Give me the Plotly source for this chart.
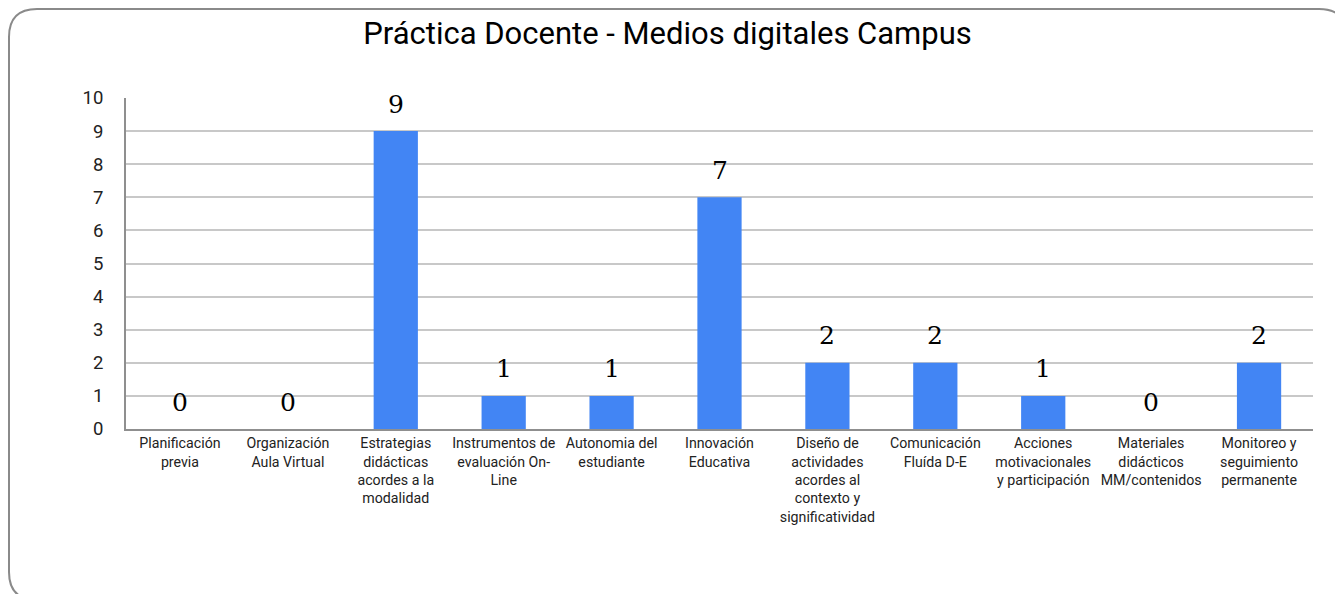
import plotly.graph_objects as go

categories = [
    "Planificación previa",
    "Organización Aula Virtual",
    "Estrategias didácticas acordes a la modalidad",
    "Instrumentos de evaluación On-Line",
    "Autonomia del estudiante",
    "Innovación Educativa",
    "Diseño de actividades acordes al contexto y significatividad",
    "Comunicación Fluída D-E",
    "Acciones motivacionales y participación",
    "Materiales didácticos MM/contenidos",
    "Monitoreo y seguimiento permanente",
]
tick_labels = [
    "Planificación<br>previa",
    "Organización<br>Aula Virtual",
    "Estrategias<br>didácticas<br>acordes a la<br>modalidad",
    "Instrumentos de<br>evaluación On-<br>Line",
    "Autonomia del<br>estudiante",
    "Innovación<br>Educativa",
    "Diseño de<br>actividades<br>acordes al<br>contexto y<br>significatividad",
    "Comunicación<br>Fluída D-E",
    "Acciones<br>motivacionales<br>y participación",
    "Materiales<br>didácticos<br>MM/contenidos",
    "Monitoreo y<br>seguimiento<br>permanente",
]
values = [0, 0, 9, 1, 1, 7, 2, 2, 1, 0, 2]
title_text = "Práctica Docente - Medios digitales Campus"

W, H = 1335, 594
ML, MR, MT, MB = 126, 22, 98, 165
PW, PH = W - ML - MR, H - MT - MB

fig = go.Figure()
fig.add_trace(go.Bar(
    x=categories, y=values,
    marker=dict(color="#4285F4", line=dict(width=0)),
    hoverinfo="x+y",
))

# value labels above bars
for c, v in zip(categories, values):
    fig.add_annotation(
        x=c, y=v, text=str(v), showarrow=False,
        yanchor="middle", yshift=27,
        font=dict(family="DejaVu Serif", size=25, color="#000000"),
    )

# rounded frame around the chart (pixel -> paper coords)
def px(x):
    return (x - ML) / PW

def py(y):
    return (H - MB - y) / PH

L, T, R, B, r = 9, 9, 1347, 600, 28
path = (
    f"M {px(L)},{py(T + r)} "
    f"Q {px(L)},{py(T)} {px(L + r)},{py(T)} "
    f"L {px(R - r)},{py(T)} "
    f"Q {px(R)},{py(T)} {px(R)},{py(T + r)} "
    f"L {px(R)},{py(B - r)} "
    f"Q {px(R)},{py(B)} {px(R - r)},{py(B)} "
    f"L {px(L + r)},{py(B)} "
    f"Q {px(L)},{py(B)} {px(L)},{py(B - r)} Z"
)
fig.add_shape(type="path", path=path, xref="paper", yref="paper",
              line=dict(color="#8a8a8a", width=2), layer="below")

fig.update_layout(
    width=W, height=H,
    margin=dict(l=ML, r=MR, t=MT, b=MB),
    paper_bgcolor="white", plot_bgcolor="white",
    bargap=0.59,
    showlegend=False,
    title=dict(text=title_text, x=0.5, xref="container", xanchor="center",
               y=1 - 33 / H, yref="container", yanchor="middle",
               font=dict(family="Roboto", size=31, color="#000000")),
    font=dict(family="Roboto", color="#222222"),
)
fig.update_xaxes(
    tickvals=categories, ticktext=tick_labels,
    tickfont=dict(family="Roboto", size=14.2, color="#222222"),
    showline=True, linecolor="#8f8f8f", linewidth=2,
    showgrid=False, ticks="", tickangle=0, automargin=False,
    ticklabelstandoff=0,
)
fig.update_yaxes(
    range=[0, 10], dtick=1, tick0=0,
    tickfont=dict(family="Roboto", size=18.5, color="#222222"),
    showline=True, linecolor="#8f8f8f", linewidth=2,
    showgrid=True, gridcolor="#c8c8c8", gridwidth=1.5,
    zeroline=False, ticks="", ticklabelstandoff=17, automargin=False,
)

fig.write_html(
    "out.html",
    config={"displayModeBar": False},
    post_script="document.body.style.margin='0';document.body.style.overflow='hidden';",
)
